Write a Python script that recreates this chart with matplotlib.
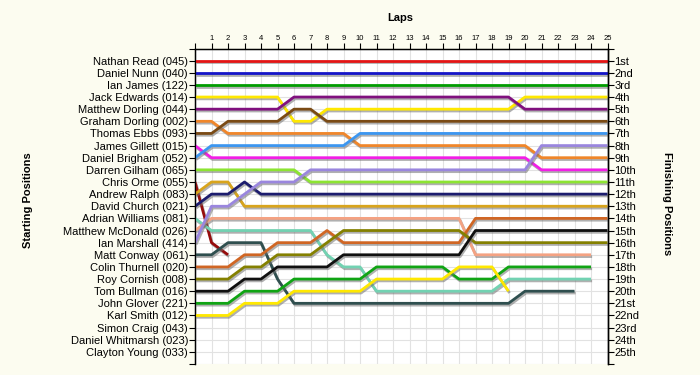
import matplotlib
matplotlib.use("Agg")
import matplotlib.pyplot as plt
import matplotlib.patheffects as pe

plt.rcParams['font.family'] = ['Liberation Sans', 'DejaVu Sans']

# Starting grid (top to bottom)
drivers = ["Nathan Read (045)", "Daniel Nunn (040)", "Ian James (122)", "Jack Edwards (014)",
           "Matthew Dorling (044)", "Graham Dorling (002)", "Thomas Ebbs (093)", "James Gillett (015)",
           "Daniel Brigham (052)", "Darren Gilham (065)", "Chris Orme (055)", "Andrew Ralph (083)",
           "David Church (021)", "Adrian Williams (081)", "Matthew McDonald (026)", "Ian Marshall (414)",
           "Matt Conway (061)", "Colin Thurnell (020)", "Roy Cornish (008)", "Tom Bullman (016)",
           "John Glover (221)", "Karl Smith (012)", "Simon Craig (043)", "Daniel Whitmarsh (023)",
           "Clayton Young (033)"]

finish_labels = ["1st", "2nd", "3rd", "4th", "5th", "6th", "7th", "8th", "9th", "10th", "11th", "12th",
                 "13th", "14th", "15th", "16th", "17th", "18th", "19th", "20th", "21st", "22nd", "23rd",
                 "24th", "25th"]

# position after each lap (lap 0 = grid)
read_045 = [1, 1, 1, 1, 1, 1, 1, 1, 1, 1, 1, 1, 1, 1, 1, 1, 1, 1, 1, 1, 1, 1, 1, 1, 1, 1]
nunn_040 = [2, 2, 2, 2, 2, 2, 2, 2, 2, 2, 2, 2, 2, 2, 2, 2, 2, 2, 2, 2, 2, 2, 2, 2, 2, 2]
james_122 = [3, 3, 3, 3, 3, 3, 3, 3, 3, 3, 3, 3, 3, 3, 3, 3, 3, 3, 3, 3, 3, 3, 3, 3, 3, 3]
edwards_014 = [4, 4, 4, 4, 4, 4, 6, 6, 5, 5, 5, 5, 5, 5, 5, 5, 5, 5, 5, 5, 4, 4, 4, 4, 4, 4]
mdorling_044 = [5, 5, 5, 5, 5, 5, 4, 4, 4, 4, 4, 4, 4, 4, 4, 4, 4, 4, 4, 4, 5, 5, 5, 5, 5, 5]
gdorling_002 = [6, 6, 7, 7, 7, 7, 7, 7, 7, 7, 8, 8, 8, 8, 8, 8, 8, 8, 8, 8, 8, 9, 9, 9, 9, 9]
ebbs_093 = [7, 7, 6, 6, 6, 6, 5, 5, 6, 6, 6, 6, 6, 6, 6, 6, 6, 6, 6, 6, 6, 6, 6, 6, 6, 6]
gillett_015 = [8, 9, 9, 9, 9, 9, 9, 9, 9, 9, 9, 9, 9, 9, 9, 9, 9, 9, 9, 9, 9, 10, 10, 10, 10, 10]
brigham_052 = [9, 8, 8, 8, 8, 8, 8, 8, 8, 8, 7, 7, 7, 7, 7, 7, 7, 7, 7, 7, 7, 7, 7, 7, 7, 7]
gilham_065 = [10, 10, 10, 10, 10, 10, 10, 11, 11, 11, 11, 11, 11, 11, 11, 11, 11, 11, 11, 11, 11, 11, 11, 11, 11, 11]
orme_055 = [11, 16, 17]
ralph_083 = [12, 11, 11, 13, 13, 13, 13, 13, 13, 13, 13, 13, 13, 13, 13, 13, 13, 13, 13, 13, 13, 13, 13, 13, 13, 13]
church_021 = [13, 12, 12, 11, 12, 12, 12, 12, 12, 12, 12, 12, 12, 12, 12, 12, 12, 12, 12, 12, 12, 12, 12, 12, 12, 12]
williams_081 = [14, 15, 15, 15, 15, 15, 15, 15, 17, 18, 18, 20, 20, 20, 20, 20, 20, 20, 20, 19, 19, 19, 19, 19, 19]
mcdonald_026 = [15, 14, 14, 14, 14, 14, 14, 14, 14, 14, 14, 14, 14, 14, 14, 14, 14, 17, 17, 17, 17, 17, 17, 17, 17]
marshall_414 = [16, 13, 13, 12, 11, 11, 11, 10, 10, 10, 10, 10, 10, 10, 10, 10, 10, 10, 10, 10, 10, 8, 8, 8, 8, 8]
conway_061 = [17, 17, 16, 16, 16, 19, 21, 21, 21, 21, 21, 21, 21, 21, 21, 21, 21, 21, 21, 21, 20, 20, 20, 20]
thurnell_020 = [18, 18, 18, 17, 17, 16, 16, 16, 15, 16, 16, 16, 16, 16, 16, 16, 16, 14, 14, 14, 14, 14, 14, 14, 14, 14]
cornish_008 = [19, 19, 19, 18, 18, 17, 17, 17, 16, 15, 15, 15, 15, 15, 15, 15, 15, 16, 16, 16, 16, 16, 16, 16, 16, 16]
bullman_016 = [20, 20, 20, 19, 19, 18, 18, 18, 18, 17, 17, 17, 17, 17, 17, 17, 17, 15, 15, 15, 15, 15, 15, 15, 15, 15]
glover_221 = [21, 21, 21, 20, 20, 20, 19, 19, 19, 19, 19, 18, 18, 18, 18, 18, 19, 19, 19, 18, 18, 18, 18, 18, 18]
smith_012 = [22, 22, 22, 21, 21, 21, 20, 20, 20, 20, 20, 19, 19, 19, 19, 19, 18, 18, 18, 20]

race = [read_045, nunn_040, james_122, edwards_014, mdorling_044, gdorling_002, ebbs_093,
        gillett_015, brigham_052, gilham_065, orme_055, ralph_083, church_021, williams_081,
        mcdonald_026, marshall_414, conway_061, thurnell_020, cornish_008, bullman_016,
        glover_221, smith_012]
colors = ['#e41414', '#1414c8', '#009c00', '#ffe800', '#80107e', '#f0862a', '#7a4a14',
          '#f21ee6', '#3c96f0', '#8ce432', '#960c0c', '#d8a41c', '#1c1c6e', '#72d2b2',
          '#f4a282', '#9a86de', '#2f4f4f', '#d06624', '#848000', '#101010',
          '#10a414', '#ffe800']

n_laps = 25

fig = plt.figure(figsize=(7, 3.75), dpi=100, facecolor='#fcfcf0')
ax = fig.add_axes([195 / 700, 1 - 364 / 375, 412.5 / 700, 315.5 / 375])
ax.set_facecolor('white')

shadow = [pe.SimpleLineShadow(offset=(0.8, -1.3), shadow_color='#707070', alpha=0.55),
          pe.Normal()]
for pos, col in zip(race, colors):
    laps = list(range(len(pos)))
    ax.plot(laps, pos, color=col, lw=2.0, solid_capstyle='butt',
            path_effects=shadow, zorder=3)

ax.set_xlim(0, n_laps)
ax.set_ylim(26, 0)

# top lap axis
ax.xaxis.tick_top()
ax.set_xticks(range(0, n_laps + 1))
ax.set_xticklabels([''] + [str(i) for i in range(1, n_laps + 1)], fontsize=5.5)
ax.tick_params(axis='x', length=4, width=0.8, pad=1)

# left: starting grid
ax.set_yticks(range(0, 27))
ax.set_yticklabels([''] + drivers + [''], fontsize=8)
ax.tick_params(axis='y', length=4, width=0.8, pad=1)

ax.grid(True, color='#e2e2e2', lw=0.8)
ax.set_axisbelow(True)
ax.spines['bottom'].set_visible(False)
for s in ['left', 'right', 'top']:
    ax.spines[s].set_linewidth(1.0)

# right: finishing positions
ax2 = ax.twinx()
ax2.set_ylim(26, 0)
ax2.set_yticks(range(0, 27))
ax2.set_yticklabels([''] + finish_labels + [''], fontsize=8)
ax2.tick_params(axis='y', length=4, width=0.8, pad=1)
ax2.spines['bottom'].set_visible(False)
ax2.spines['right'].set_linewidth(1.0)

fig.text(400 / 700, 1 - 18 / 375, "Laps", ha='center', va='center', fontsize=8, fontweight='bold')
fig.text(28 / 700, 1 - 200 / 375, "Starting Positions", ha='center', va='center',
         rotation=90, fontsize=8, fontweight='bold')
fig.text(667 / 700, 1 - 204 / 375, "Finishing Positions", ha='center', va='center',
         rotation=-90, fontsize=8, fontweight='bold')

fig.savefig("out.png", dpi=100, facecolor=fig.get_facecolor())
